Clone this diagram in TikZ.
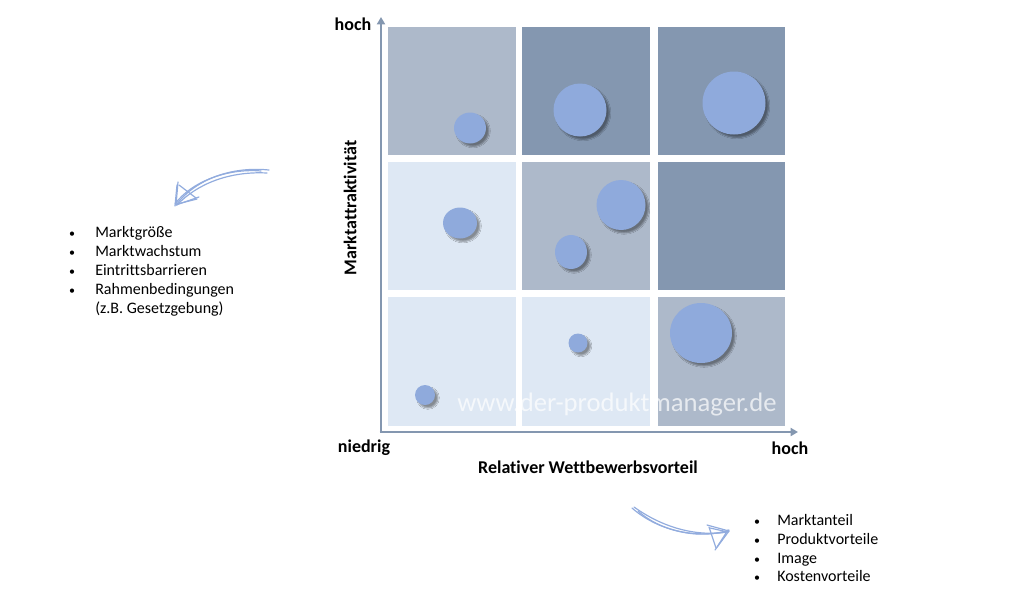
\documentclass[tikz,border=0pt]{standalone}
\usepackage{fontspec}
\setmainfont{Carlito}[Ligatures={NoCommon}]
\usetikzlibrary{arrows.meta,shadows.blur}

\definecolor{cellLight}{RGB}{222,232,244}
\definecolor{cellMid}{RGB}{173,185,202}
\definecolor{cellDark}{RGB}{132,151,176}
\definecolor{bubbleFill}{RGB}{143,170,220}
\definecolor{axisLine}{RGB}{132,151,176}
\definecolor{sketchLine}{RGB}{146,172,222}

\tikzset{
  bubble/.style={fill=bubbleFill, draw=none, blur shadow={shadow xshift=2.2pt, shadow yshift=-2.2pt, shadow blur radius=1pt, shadow blur steps=6, shadow opacity=40}},
  axis/.style={draw=axisLine, line width=2.2pt, -{Triangle[width=6pt,length=5.5pt]}},
  sketch/.style={draw=sketchLine, line width=0.9pt, line cap=round},
  axislabel/.style={font=\fontsize{13.5}{16}\selectfont\bfseries},
  listitem/.style={anchor=base west, font=\fontsize{12}{14}\selectfont, inner sep=0pt},
  listbullet/.style={anchor=base, font=\fontsize{9}{11}\selectfont, inner sep=0pt},
}

\begin{document}
\begin{tikzpicture}[x=0.75pt,y=0.75pt,yscale=-1,xscale=1]
%set diagram size
\path[use as bounding box] (0,0) rectangle (1010,597);

%Shape: Rectangles of the portfolio
\fill[cellMid] (388,27) rectangle (516,155);
\fill[cellDark] (522,27) rectangle (650,155);
\fill[cellDark] (658,27) rectangle (785,155);
\fill[cellLight] (388,162) rectangle (516,290);
\fill[cellMid] (522,162) rectangle (650,290);
\fill[cellDark] (658,162) rectangle (785,290);
\fill[cellLight] (388,297) rectangle (516,426);
\fill[cellLight] (522,297) rectangle (650,426);
\fill[cellMid] (658,297) rectangle (785,426);

%Shape: Circles
\draw[bubble] (470,128) circle [x radius= 16, y radius= 15.5];
\draw[bubble] (580,110) circle [x radius= 26.5, y radius= 26.5];
\draw[bubble] (734,103) circle [x radius= 31.5, y radius= 31.5];
\draw[bubble] (460,223) circle [x radius= 17, y radius= 15.5];
\draw[bubble] (621,205) circle [x radius= 24.5, y radius= 25];
\draw[bubble] (571,252) circle [x radius= 16, y radius= 17];
\draw[bubble] (425,395) circle [x radius= 10, y radius= 10];
\draw[bubble] (578,343) circle [x radius= 9.5, y radius= 9.5];
\draw[bubble] (701,333) circle [x radius= 31, y radius= 30];

% Text Node
\draw (617,405) node (watermark) [font=\fontsize{20}{24}\selectfont, text=white, text opacity=0.7] {www.der-produktmanager.de};

%Straight Lines: axes
\coordinate (origin) at (381,432);
\coordinate (ytip) at (381,17);
\coordinate (xtip) at (798,432);
\draw[axis] ([yshift=-1.1pt]origin) -- (ytip);
\draw[axis] ([xshift=-1.1pt]origin) -- (xtip);

% Text Node
\draw (353,24) node (yhigh) [axislabel] {hoch};
% Text Node
\draw (364,448) node (xlow) [axislabel] {niedrig};
% Text Node
\draw (790,448) node (xhigh) [axislabel] {hoch};
% Text Node
\draw (588,467) node (xtitle) [axislabel] {Relativer Wettbewerbsvorteil};
% Text Node
\draw (350,208) node (ytitle) [axislabel, rotate=90] {Marktattraktivität};

%Curve Lines: hand drawn arrows
\coordinate (askStart) at (269,170);
\coordinate (askTip) at (176,205);
\draw[sketch] (askStart) .. controls +(-40,-4) and +(18,-24) .. (askTip);
\draw[sketch] ([shift={(-2,3)}]askStart) .. controls +(-38,-2) and +(20,-21) .. ([shift={(1,0)}]askTip);
\draw[sketch] ([shift={(-8,1)}]askStart) .. controls +(-34,-3) and +(16,-22) .. ([shift={(-1,-1)}]askTip);
\draw[sketch] (askTip) -- ([shift={(2,-23)}]askTip);
\draw[sketch] ([shift={(-1,1)}]askTip) -- ([shift={(1,-20)}]askTip);
\draw[sketch] (askTip) -- ([shift={(23,-8)}]askTip);
\draw[sketch] ([shift={(1,-1)}]askTip) -- ([shift={(21,-6)}]askTip);
\draw[sketch] ([shift={(3,-20)}]askTip) -- ([shift={(20,-7)}]askTip);

\coordinate (bskStart) at (632,508);
\coordinate (bskTip) at (729,531);
\draw[sketch] (bskStart) .. controls +(25,22) and +(-35,8) .. (bskTip);
\draw[sketch] ([shift={(2,-1)}]bskStart) .. controls +(28,20) and +(-33,5) .. ([shift={(-1,1)}]bskTip);
\draw[sketch] ([shift={(6,3)}]bskStart) .. controls +(22,20) and +(-30,10) .. ([shift={(0,-1)}]bskTip);
\draw[sketch] (bskTip) -- ([shift={(-22,-6)}]bskTip);
\draw[sketch] ([shift={(-1,1)}]bskTip) -- ([shift={(-19,-3)}]bskTip);
\draw[sketch] (bskTip) -- ([shift={(-14,19)}]bskTip);
\draw[sketch] ([shift={(-1,-1)}]bskTip) -- ([shift={(-12,16)}]bskTip);
\draw[sketch] ([shift={(-20,-4)}]bskTip) -- ([shift={(-13,17)}]bskTip);

% Text Node: left list
\draw (72,237) node (lb1) [listbullet] {\textbullet};
\draw (95,237) node (li1) [listitem] {Marktgröße};
\draw (72,256) node (lb2) [listbullet] {\textbullet};
\draw (95,256) node (li2) [listitem] {Marktwachstum};
\draw (72,275) node (lb3) [listbullet] {\textbullet};
\draw (95,275) node (li3) [listitem] {Eintrittsbarrieren};
\draw (72,294) node (lb4) [listbullet] {\textbullet};
\draw (95,294) node (li4) [listitem] {Rahmenbedingungen};
\draw (95,313) node (li5) [listitem] {(z.B. Gesetzgebung)};

% Text Node: right list
\draw (757,525) node (rb1) [listbullet] {\textbullet};
\draw (777,525) node (ri1) [listitem] {Marktanteil};
\draw (757,544) node (rb2) [listbullet] {\textbullet};
\draw (777,544) node (ri2) [listitem] {Produktvorteile};
\draw (757,563) node (rb3) [listbullet] {\textbullet};
\draw (777,563) node (ri3) [listitem] {Image};
\draw (757,581) node (rb4) [listbullet] {\textbullet};
\draw (777,581) node (ri4) [listitem] {Kostenvorteile};

\end{tikzpicture}
\end{document}
